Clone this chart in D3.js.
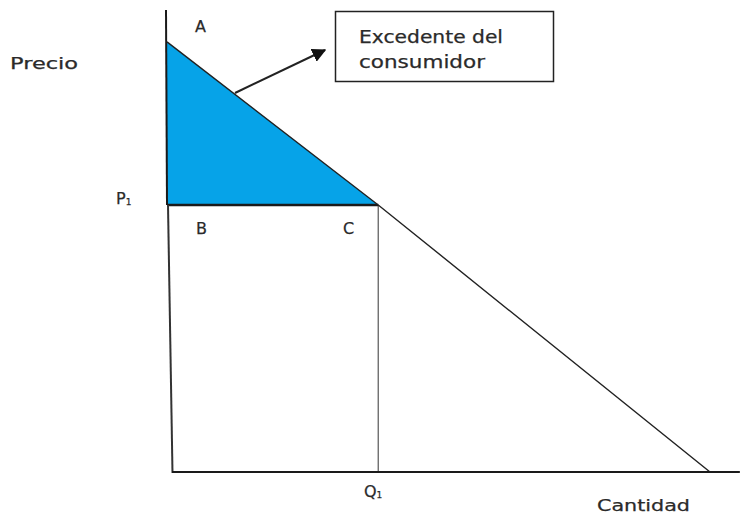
<!DOCTYPE html>
<html>
<head>
<meta charset="utf-8">
<script src="https://cdn.jsdelivr.net/npm/d3@7"></script>
<style>
  body { margin: 0; background: #fff; }
  text { font-family: "DejaVu Sans", Verdana, sans-serif; fill: #2a2a2a; stroke: #2a2a2a; stroke-width: 0.25; }
</style>
</head>
<body>
<div id="vis"></div>
<script>
// Demand curve (quantity, price in 0-100 units)
var demandQ = [0, 38.9, 100];
var demandP = [93.1, 57.8, 0];

// Equilibrium point
var q1 = 38.9;
var p1 = 57.8;

// Axis extents
var qAxisMax = 105.5;
var pAxisMax = 100;

// Labels
var axisLabels = ['Precio', 'Cantidad'];
var pointLabels = ['A', 'B', 'C'];
var boxLines = ['Excedente del', 'consumidor'];

var width = 740;
var height = 514;

var x = d3.scaleLinear().domain([0, 100]).range([167, 710]);
var y = d3.scaleLinear().domain([0, 100]).range([472, 10]);

var svg = d3.select('#vis').append('svg')
  .attr('width', width)
  .attr('height', height);

var demand = d3.range(demandQ.length).map(function (i) {
  return { q: demandQ[i], p: demandP[i] };
});

// consumer surplus triangle: A, C, B
var surplus = [
  { q: 0, p: demandP[0] },
  { q: q1, p: p1 },
  { q: 0, p: p1 }
];

var line = d3.line()
  .x(function (d) { return x(d.q); })
  .y(function (d) { return y(d.p); });

svg.append('path')
  .datum(surplus)
  .attr('d', line.curve(d3.curveLinearClosed))
  .attr('fill', '#06a3e8')
  .attr('stroke', 'none');
line.curve(d3.curveLinear);

// Q1 vertical guide
svg.append('line')
  .attr('x1', x(q1)).attr('y1', y(p1))
  .attr('x2', x(q1)).attr('y2', y(0))
  .attr('stroke', '#555')
  .attr('stroke-width', 1.2);

// P1 horizontal (triangle base)
svg.append('line')
  .attr('x1', x(0)).attr('y1', y(p1))
  .attr('x2', x(q1)).attr('y2', y(p1))
  .attr('stroke', '#1a1a1a')
  .attr('stroke-width', 2.5);

// demand line
svg.append('path')
  .datum(demand)
  .attr('d', line)
  .attr('fill', 'none')
  .attr('stroke', '#222')
  .attr('stroke-width', 1.4);

// axes (vertical is drawn a bit slanted, like the hand drawing)
svg.append('line')
  .attr('x1', x(0) - 1).attr('y1', y(pAxisMax))
  .attr('x2', x(0)).attr('y2', y(p1))
  .attr('stroke', '#1a1a1a').attr('stroke-width', 2);
svg.append('line')
  .attr('x1', x(0) + 1).attr('y1', y(p1))
  .attr('x2', x(0) + 5.5).attr('y2', y(0) + 1)
  .attr('stroke', '#333').attr('stroke-width', 2);
svg.append('line')
  .attr('x1', x(0) + 5).attr('y1', y(0))
  .attr('x2', x(qAxisMax)).attr('y2', y(0))
  .attr('stroke', '#1a1a1a').attr('stroke-width', 2);

// arrow to the annotation box
svg.append('defs').append('marker')
  .attr('id', 'head')
  .attr('viewBox', '0 0 10 10')
  .attr('refX', 9).attr('refY', 5)
  .attr('markerWidth', 7).attr('markerHeight', 7)
  .attr('markerUnits', 'strokeWidth')
  .attr('orient', 'auto')
  .append('path')
  .attr('d', 'M0,0 L10,5 L0,10 Z')
  .attr('fill', '#111');

svg.append('line')
  .attr('x1', 235).attr('y1', 93)
  .attr('x2', 325).attr('y2', 50)
  .attr('stroke', '#222')
  .attr('stroke-width', 2)
  .attr('marker-end', 'url(#head)');

// annotation box
svg.append('rect')
  .attr('x', 335.5).attr('y', 11.5)
  .attr('width', 218).attr('height', 70)
  .attr('fill', '#fff')
  .attr('stroke', '#222')
  .attr('stroke-width', 1.5);

svg.selectAll('.boxline')
  .data(boxLines)
  .enter().append('text')
  .attr('class', 'boxline')
  .attr('x', 359)
  .attr('y', function (d, i) { return 43 + i * 25; })
  .attr('font-size', 17)
  .attr('textLength', function (d, i) { return i === 0 ? 144 : 126; })
  .attr('lengthAdjust', 'spacingAndGlyphs')
  .text(function (d) { return d; });

// axis titles
svg.append('text')
  .attr('x', 10).attr('y', 69)
  .attr('font-size', 16)
  .attr('textLength', 68).attr('lengthAdjust', 'spacingAndGlyphs')
  .text(axisLabels[0]);
svg.append('text')
  .attr('x', 597).attr('y', 511)
  .attr('font-size', 16)
  .attr('textLength', 93).attr('lengthAdjust', 'spacingAndGlyphs')
  .text(axisLabels[1]);

// point labels
svg.append('text').attr('x', 195).attr('y', 32).attr('font-size', 16).text(pointLabels[0]);
svg.append('text').attr('x', 196).attr('y', 234).attr('font-size', 16).text(pointLabels[1]);
svg.append('text').attr('x', 343).attr('y', 234).attr('font-size', 16).text(pointLabels[2]);

// P1 and Q1
var pt = svg.append('text').attr('x', 116).attr('y', 204).attr('font-size', 16);
pt.append('tspan').text('P');
pt.append('tspan').attr('font-size', 9).attr('dy', 1).text('1');

var qt = svg.append('text').attr('x', 364).attr('y', 497).attr('font-size', 16);
qt.append('tspan').text('Q');
qt.append('tspan').attr('font-size', 9).attr('dy', 1).text('1');
</script>
</body>
</html>
